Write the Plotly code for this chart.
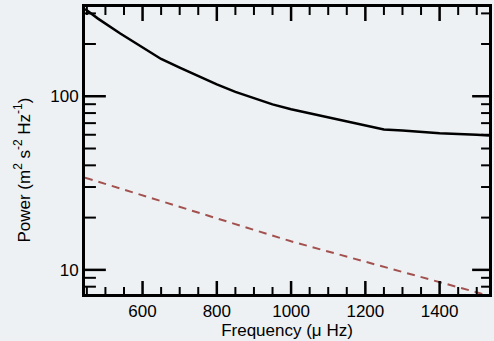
import plotly.graph_objects as go

# Observed power spectrum (solid curve)
freq_obs = [445, 480, 540, 600, 650, 700, 750, 800, 850, 900, 950, 1000,
            1100, 1200, 1250, 1300, 1400, 1500, 1533]
power_obs = [318, 280, 230, 191, 164, 146, 130, 117, 106, 97.3, 89.8, 84.2,
             75.6, 68, 64.4, 63.4, 61.2, 60, 59.5]

# Model / noise level (dashed curve)
freq_model = [445, 1000, 1533]
power_model = [34, 14.6, 7.1]

x_major = [600, 800, 1000, 1200, 1400]
x_minor = [450, 500, 550, 650, 700, 750, 850, 900, 950, 1050, 1100, 1150,
           1250, 1300, 1350, 1450, 1500]
y_major = [10, 100]
y_minor = [8, 9, 20, 30, 40, 50, 60, 70, 80, 90, 200, 300]

font = "Liberation Sans, Arial, Helvetica, sans-serif"
bg = "#edf1f3"
W, H = 494, 341
M = dict(l=85, r=2, t=7, b=47)
xr = [445, 1533]
yr = [0.861, 2.514]  # log10 range

# data units per pixel, used to give the tick marks a fixed pixel length
xpp = (xr[1] - xr[0]) / (W - M["l"] - M["r"])
dpp = (yr[1] - yr[0]) / (H - M["t"] - M["b"])
ybot, ytop = 10 ** yr[0], 10 ** yr[1]

def xticks(vals, ln_bottom, ln_top):
    xs, ys = [], []
    for v in vals:
        xs += [v, v, None, v, v, None]
        ys += [ybot, 10 ** (yr[0] + ln_bottom * dpp), None,
               ytop, 10 ** (yr[1] - ln_top * dpp), None]
    return xs, ys

def yticks(vals, ln_left, ln_right):
    xs, ys = [], []
    for v in vals:
        xs += [xr[0], xr[0] + ln_left * xpp, None, xr[1], xr[1] - ln_right * xpp, None]
        ys += [v, v, None, v, v, None]
    return xs, ys

fig = go.Figure()
fig.add_trace(go.Scatter(x=freq_obs, y=power_obs, mode="lines",
                         line=dict(color="black", width=2.5), showlegend=False))
fig.add_trace(go.Scatter(x=freq_model, y=power_model, mode="lines",
                         line=dict(color="#a3514f", width=2, dash="8px,6px"),
                         showlegend=False))

# tick marks drawn as line traces (inside, on all four sides)
for (xs, ys), w in [(xticks(x_major, 13, 14), 2.5), (xticks(x_minor, 7, 8), 2),
                    (yticks(y_major, 21, 17), 2.5), (yticks(y_minor, 11, 8), 2)]:
    fig.add_trace(go.Scatter(x=xs, y=ys, mode="lines", connectgaps=False,
                             line=dict(color="black", width=w),
                             showlegend=False, hoverinfo="skip"))

common = dict(ticks="", showgrid=False, zeroline=False,
              showline=True, linecolor="black", linewidth=3, mirror=True)

fig.update_layout(
    width=W, height=H, margin=M,
    paper_bgcolor=bg, plot_bgcolor=bg,
    font=dict(family=font, size=17, color="black"),
    xaxis=dict(
        range=xr, tickmode="array", tickvals=x_major,
        title=dict(text="Frequency (\u03bc Hz)", font=dict(size=17), standoff=4),
        **common,
    ),
    yaxis=dict(
        type="log", range=yr, tickmode="array", tickvals=y_major,
        **common,
    ),
    annotations=[dict(
        text="Power (m<sup>2</sup> s<sup>-2</sup> Hz<sup>-1</sup>)",
        xref="paper", yref="paper", x=0, y=0.43, xshift=-63,
        xanchor="center", yanchor="middle", textangle=-90,
        showarrow=False, font=dict(size=17, family=font, color="black"),
    )],
)

fig.write_html("out.html")
